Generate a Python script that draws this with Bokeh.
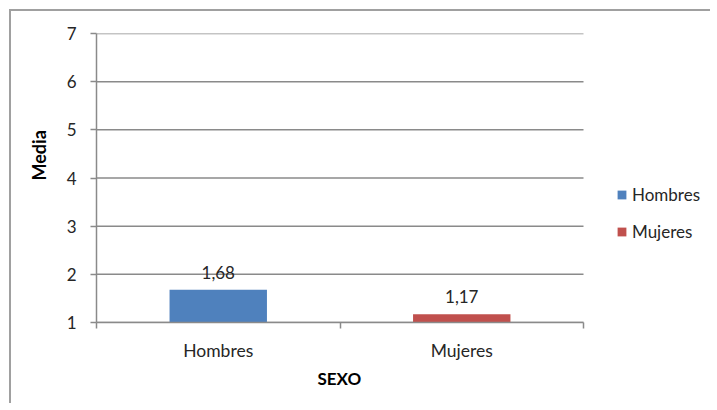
from bokeh.plotting import figure
from bokeh.models import Range1d, FixedTicker, Legend, LegendItem, ColumnDataSource, Title
from bokeh.embed import file_html
from bokeh.resources import INLINE

categories = ["Hombres", "Mujeres"]
values = [1.68, 1.17]
colors = ["#4F81BD", "#C0504D"]
y_ticks = [1, 2, 3, 4, 5, 6, 7]
x_title = "SEXO"
y_title = "Media"

FONT = "Lato"
GRID = "#8a8a8a"

n = len(categories)
PLOT_W = 487      # pixel width of the category area
FRAME_W = 609     # frame also holds the legend area on the right
xs = [i + 0.5 for i in range(n)]
labels = [f"{v:.2f}".replace(".", ",") for v in values]
src = ColumnDataSource(dict(x=xs, top=values, color=colors, label=labels, cat=categories))

p = figure(frame_width=FRAME_W, frame_height=289, output_backend="svg", toolbar_location=None,
           x_range=Range1d(0, n * FRAME_W / PLOT_W), y_range=Range1d(1, 7),
           min_border_left=85, min_border_right=5, min_border_top=22, min_border_bottom=81)
p.styles = {"border-top": "2px solid #a0a0a0", "border-left": "2px solid #a0a0a0",
            "margin-left": "9px", "margin-top": "9px"}
p.outline_line_color = None
p.background_fill_color = "white"
p.border_fill_color = "white"

# horizontal grid lines across the category area only
p.segment(x0=0, x1=n, y0=y_ticks, y1=y_ticks, line_color=GRID, line_width=1.5)

bars = p.vbar(x="x", top="top", bottom=1, width=0.4, color="color", line_color=None, source=src)
p.text(x="x", y="top", text="label", source=src, text_align="center", text_baseline="bottom",
       y_offset=-11, text_font_size="17px", text_color="#262626",
       text_font={"value": FONT})

# y axis
p.yaxis.ticker = FixedTicker(ticks=y_ticks)
p.yaxis.major_label_text_font = FONT
p.yaxis.major_label_text_font_size = "17px"
p.yaxis.major_label_text_color = "#262626"
p.yaxis.major_label_standoff = 14
p.yaxis.major_tick_out = 6
p.yaxis.major_tick_in = 0
p.yaxis.minor_tick_out = 0
p.yaxis.minor_tick_in = 0
p.yaxis.axis_line_color = GRID
p.yaxis.axis_line_width = 1.5
p.yaxis.major_tick_line_color = GRID
p.yaxis.major_tick_line_width = 1.5

# x axis
p.xaxis.ticker = FixedTicker(ticks=xs, minor_ticks=list(range(n + 1)))
p.xaxis.bounds = (0, n)
p.xaxis.major_label_overrides = {x: c for x, c in zip(xs, categories)}
p.xaxis.major_label_text_font = FONT
p.xaxis.major_label_text_font_size = "17.5px"
p.xaxis.major_label_text_color = "#262626"
p.xaxis.major_label_standoff = 11
p.xaxis.major_tick_out = 0
p.xaxis.major_tick_in = 0
p.xaxis.minor_tick_out = 6
p.xaxis.minor_tick_in = 0
p.xaxis.minor_tick_line_color = GRID
p.xaxis.minor_tick_line_width = 1.5
p.xaxis.axis_line_color = GRID
p.xaxis.axis_line_width = 1.5

p.xgrid.grid_line_color = None
p.ygrid.grid_line_color = None

# axis titles (as titles so they can be placed over the category area)
p.add_layout(Title(text=x_title, align="left", offset=221,
                   text_font=FONT, text_font_size="17px", text_font_style="bold",
                   text_color="black", standoff=4), "below")
p.add_layout(Title(text=y_title, align="left", offset=142, vertical_align="top",
                   text_font=FONT, text_font_size="18px", text_font_style="bold",
                   text_color="black", standoff=24), "left")

# legend
items = [LegendItem(label=c, renderers=[bars], index=i) for i, c in enumerate(categories)]
legend = Legend(items=items, location=(520, 80), border_line_color=None,
                background_fill_alpha=0, padding=0, margin=0, spacing=16,
                glyph_width=11, glyph_height=11, label_height=20,
                label_text_font=FONT, label_text_font_size="17px",
                label_text_color="#262626", label_standoff=5)
p.add_layout(legend, "center")

open("out.html", "w").write(file_html(p, INLINE))
